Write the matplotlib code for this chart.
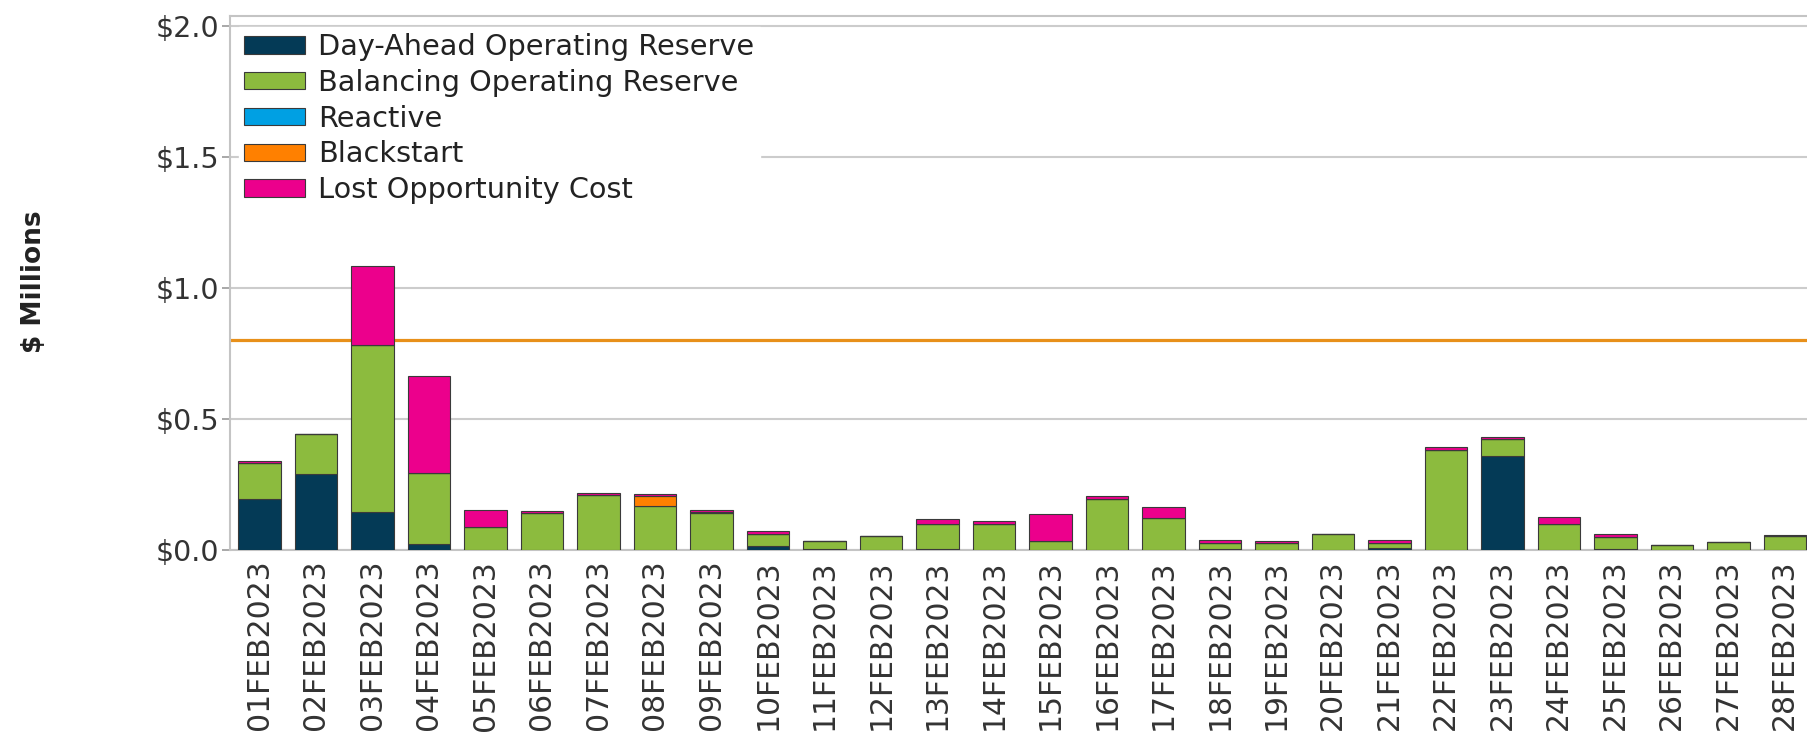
import numpy as np
import matplotlib.pyplot as plt

# daily uplift credits, $ millions, February 2023
dates = ['%02dFEB2023' % d for d in range(1, 29)]
day_ahead = [0.195, 0.290, 0.144, 0.023, 0.0, 0.0, 0.0, 0.0, 0.0, 0.016,
             0.003, 0.0, 0.005, 0.0, 0.0, 0.0, 0.0, 0.005, 0.0, 0.0,
             0.006, 0.0, 0.357, 0.0, 0.004, 0.0, 0.0, 0.0]
balancing = [0.137, 0.153, 0.640, 0.271, 0.088, 0.141, 0.211, 0.169, 0.141, 0.047,
             0.031, 0.054, 0.095, 0.100, 0.035, 0.195, 0.122, 0.020, 0.028, 0.063,
             0.020, 0.381, 0.065, 0.100, 0.046, 0.021, 0.029, 0.054]
reactive = [0.0] * 28
blackstart = [0.0, 0.0, 0.0, 0.0, 0.0, 0.0, 0.0, 0.036, 0.004, 0.0,
              0.0, 0.0, 0.0, 0.0, 0.0, 0.0, 0.0, 0.0, 0.0, 0.0,
              0.0, 0.0, 0.0, 0.0, 0.0, 0.0, 0.0, 0.0]
lost_opp = [0.008, 0.0, 0.301, 0.369, 0.066, 0.009, 0.007, 0.009, 0.008, 0.008,
            0.0, 0.0, 0.017, 0.011, 0.104, 0.012, 0.044, 0.014, 0.007, 0.0,
            0.012, 0.011, 0.009, 0.026, 0.013, 0.0, 0.0, 0.005]
ref_line = 0.8

series = [
    ('Day-Ahead Operating Reserve', day_ahead, '#043a56'),
    ('Balancing Operating Reserve', balancing, '#8cbb3e'),
    ('Reactive', reactive, '#00a0e3'),
    ('Blackstart', blackstart, '#ff8000'),
    ('Lost Opportunity Cost', lost_opp, '#ec008c'),
]

fig = plt.figure(figsize=(18.08, 7.38), dpi=100)
ax = fig.add_axes([0.1272, 0.2547, 0.8728, 0.7236])

x = np.arange(len(dates))
bottom = np.zeros(len(dates))
for name, vals, col in series:
    vals = np.array(vals)
    ax.bar(x, vals, width=0.755, bottom=bottom, color=col, edgecolor='#3a3a3a',
           linewidth=0.8, label=name, zorder=3)
    bottom += vals

ax.axhline(ref_line, color='#e8901a', lw=2.3, zorder=2)

ax.set_xlim(-0.52, 27.41)
ax.set_ylim(0, 2.038)
ax.set_yticks([0, 0.5, 1.0, 1.5, 2.0])
ax.set_yticklabels(['$0.0', '$0.5', '$1.0', '$1.5', '$2.0'])
ax.yaxis.grid(True, color='#cccccc', lw=1.5, zorder=0)
ax.set_axisbelow(True)
ax.tick_params(axis='y', labelsize=20.5, labelcolor='#333333', color='#999999',
               length=6, width=1.2, pad=2)
ax.set_xticks(x)
ax.set_xticklabels(dates, rotation=90)
ax.tick_params(axis='x', labelsize=21.5, labelcolor='#333333', length=0, pad=7)

for s in ['left', 'bottom', 'top']:
    ax.spines[s].set_color('#c4c4c4')
    ax.spines[s].set_linewidth(1.5)
ax.spines['right'].set_visible(False)

fig.text(0.019, 0.618, '$ Millions', rotation=90, fontsize=19, fontweight='bold',
         color='#222222', ha='center', va='center')

leg = ax.legend(loc='upper left', bbox_to_anchor=(0.0, 0.995), fontsize=20.7,
                frameon=True, fancybox=False, framealpha=1.0, edgecolor='white',
                handlelength=2.1, handleheight=0.55, handletextpad=0.45,
                labelspacing=0.27, borderpad=0.2, borderaxespad=0.3)
for t in leg.get_texts():
    t.set_color('#222222')

fig.savefig('out.png', dpi=100)
